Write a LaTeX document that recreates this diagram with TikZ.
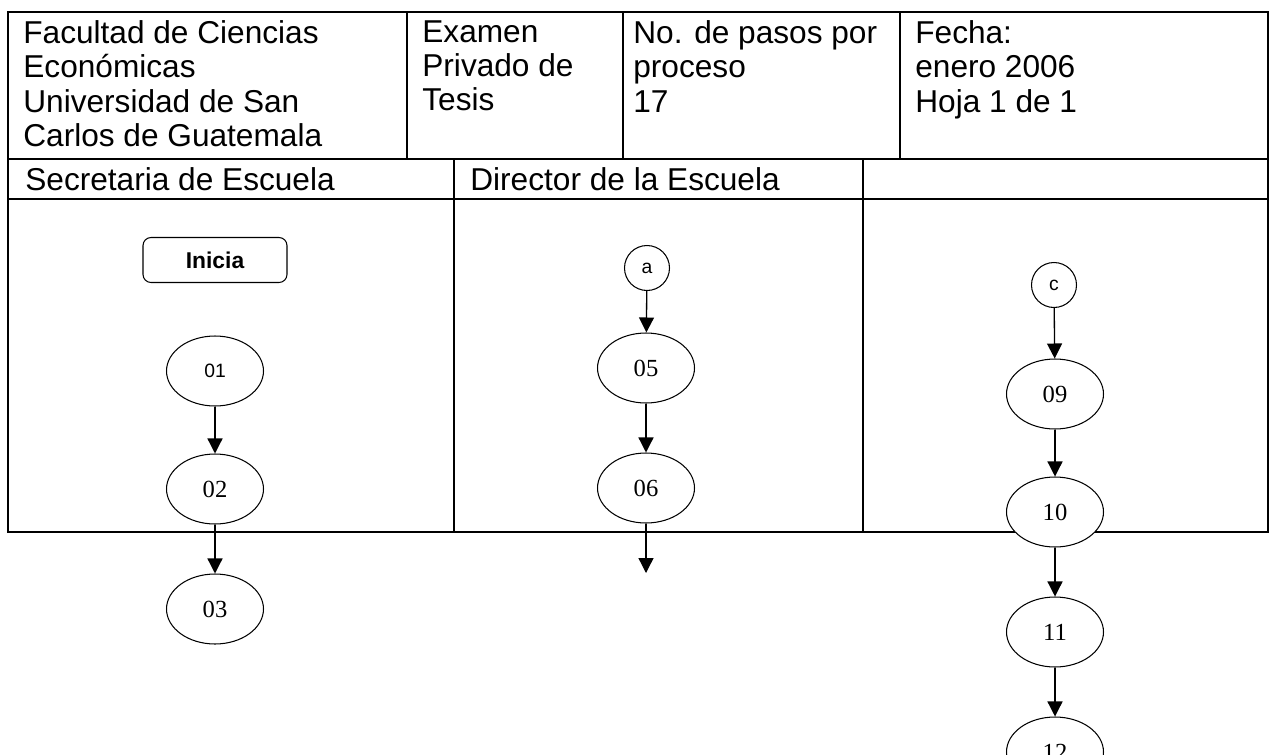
\documentclass[tikz,border=0pt]{standalone}
\usepackage{fontspec}
\setmainfont{Liberation Sans}
\newfontfamily\numfont{Liberation Serif}
\usetikzlibrary{arrows.meta, shapes.geometric}

\tikzset{
	paso/.style={ellipse, draw, line width=0.6pt, fill=white, minimum width=1.94cm, minimum height=1.4cm, inner sep=0pt, font=\numfont\fontsize{14}{16}\selectfont},
	conector/.style={circle, draw, line width=0.6pt, fill=white, minimum size=0.9cm, inner sep=0pt, font=\fontsize{11}{13}\selectfont},
	inicio/.style={rectangle, rounded corners=1.6mm, draw, line width=0.6pt, minimum width=2.88cm, minimum height=0.9cm, font=\bfseries\fontsize{13}{15}\selectfont},
	marco/.style={line width=0.9pt}
}

\begin{document}
\begin{tikzpicture}[x=0.02cm, y=-0.02cm, >={Triangle[length=3mm, width=3mm]}]
	\useasboundingbox (0,0) rectangle (1271,754);
	\clip (0,0) rectangle (1271,754);

	% encabezado
	\draw[marco] (8,12) rectangle (1268,159);
	\draw[marco] (407,12) -- (407,159) (623,12) -- (623,159) (900,12) -- (900,159);

	% carriles
	\draw[marco] (8,159) rectangle (1268,532);
	\draw[marco] (8,199) -- (1268,199) (454,159) -- (454,532) (863,159) -- (863,532);

	\begin{scope}[every node/.style={anchor=north west, inner sep=0pt, align=left, font=\fontsize{18}{19.6}\selectfont}]
		\node (facultad) at (23,20) {Facultad de Ciencias\\Económicas\\Universidad de San\\Carlos de Guatemala};
		\node (examen) at (422,20) {Examen\\Privado de\\Tesis};
		\node (pasos) at (633,20) {No. de pasos por\\proceso\\17};
		\node (fecha) at (915,20) {Fecha:\\enero 2006\\Hoja 1 de 1};
		\node[anchor=base west] (secretaria) at (25,190) {Secretaria de Escuela};
		\node[anchor=base west] (director) at (470,190) {Director de la Escuela};
	\end{scope}

	% secretaria
	\node[inicio] (inicia) at (215,260) {Inicia};
	\node[paso, font=\fontsize{11}{13}\selectfont] (01) at (215,371) {01};
	\node[paso] (02) at (215,489) {02};
	\node[paso] (03) at (215,609) {03};

	% director
	\node[conector] (a) at (647,268) {a};
	\node[paso] (05) at (646,368) {05};
	\node[paso] (06) at (646,488) {06};
	\coordinate (sigue06) at (646,573);

	% tercer carril
	\node[conector] (c) at (1054,285) {c};
	\node[paso] (09) at (1055,394) {09};
	\node[paso] (10) at (1055,512) {10};
	\node[paso] (11) at (1055,632) {11};
	\node[paso] (12) at (1055,752) {12};

	\begin{scope}[line width=0.75pt]
		\draw[->] (01) -- (02);
		\draw[->] (02) -- (03);
		\draw[->] (a) -- (05);
		\draw[->] (05) -- (06);
		\draw[->] (06) -- (sigue06);
		\draw[->] (c) -- (09);
		\draw[->] (09) -- (10);
		\draw[->] (10) -- (11);
		\draw[->] (11) -- (12);
	\end{scope}
\end{tikzpicture}
\end{document}
